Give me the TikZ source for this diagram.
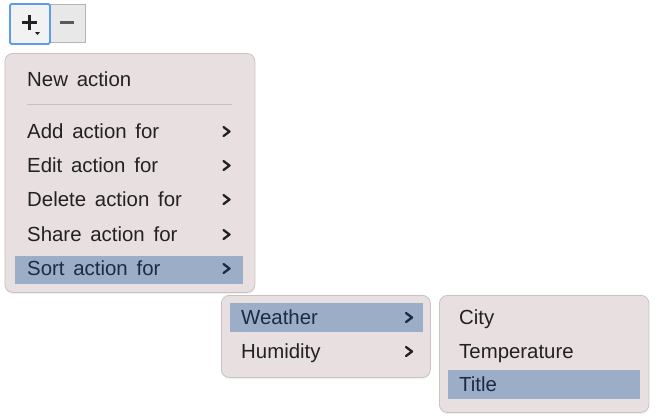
\documentclass[tikz,border=0pt]{standalone}
\usepackage{fontspec}
\setmainfont[WordSpace=1.55]{Liberation Sans}
\usetikzlibrary{positioning,shadows}
\definecolor{menubg}{HTML}{E8DFE0}
\definecolor{menuline}{HTML}{C9C1C2}
\definecolor{hlbg}{HTML}{9CADC8}
\definecolor{itemtext}{HTML}{222222}
\definecolor{hltext}{HTML}{1C2B42}
\definecolor{btnblue}{HTML}{5E9BEA}
\definecolor{btngrey}{HTML}{B4B4B4}
\begin{document}
\begin{tikzpicture}[x=1pt,y=-1pt,
  menu/.style={draw=menuline, fill=menubg, rounded corners=8pt, line width=0.8pt, anchor=north west,
    drop shadow={opacity=0.10, shadow xshift=0pt, shadow yshift=-2pt}},
  hilite/.style={fill=hlbg, draw=none, anchor=north west, inner sep=0pt},
  item/.style={anchor=base west, inner sep=0pt, font=\fontsize{20.4}{21}\selectfont, text=itemtext},
  chev/.style={draw=itemtext, line width=2.3pt, line cap=round, line join=round},
  btn/.style={anchor=north west, inner sep=0pt, line width=1pt}]
  \useasboundingbox (0,0) rectangle (657,418);

  \node[btn, draw=btngrey, fill=black!9, minimum width=37pt, minimum height=38pt] (minus) at (48,4) {};
  \node[btn, draw=btnblue, line width=1.8pt, fill=black!5, rounded corners=1.5pt, minimum width=40pt, minimum height=40pt] (plus) at (9,3) {};
  \draw[line width=2.8pt, itemtext] (21.5,22.5) -- (37,22.5) (29.2,15) -- (29.2,30);
  \fill[itemtext] (35,32) -- (40,32) -- (37.5,35) -- cycle;
  \draw[line width=2.4pt, black!65] (59.5,22.5) -- (73.5,22.5);

  \node[menu, minimum width=250pt, minimum height=239pt] (main) at (4.5,53) {};
  \node[hilite, minimum width=228pt, minimum height=28.5pt] (sorthl) at (15,255.5) {};
  \node[item] (new) at (27,86) {New action};
  \draw[menuline, line width=1pt] (27,104) -- (232,104);
  \foreach \txt/\yy in {Add action for/138, Edit action for/172, Delete action for/206, Share action for/241}{
    \node[item] at (27,\yy) {\txt};
    \draw[chev] (223.5,\yy-11) -- (229.5,\yy-6.5) -- (223.5,\yy-2);
  }
  \node[item, text=hltext] (sort) at (27,275) {Sort action for};
  \draw[chev, draw=hltext] (223.5,264) -- (229.5,268.5) -- (223.5,273);

  \node[menu, minimum width=209pt, minimum height=82pt] (attr) at (221,295) {};
  \node[hilite, minimum width=193pt, minimum height=29.5pt] (weatherhl) at (230,302.3) {};
  \node[item, text=hltext] (weather) at (241,324) {Weather};
  \draw[chev, draw=hltext] (406,313) -- (412,317.5) -- (406,322);
  \node[item] (humidity) at (241,358) {Humidity};
  \draw[chev] (406,347) -- (412,351.5) -- (406,356);

  \node[menu, minimum width=209.5pt, minimum height=117pt] (field) at (439,295) {};
  \node[hilite, minimum width=192.5pt, minimum height=29.5pt] (titlehl) at (447.7,369.5) {};
  \node[item] (city) at (459,324) {City};
  \node[item] (temp) at (459,358.5) {Temperature};
  \node[item, text=hltext] (title) at (459,391.5) {Title};
\end{tikzpicture}
\end{document}
